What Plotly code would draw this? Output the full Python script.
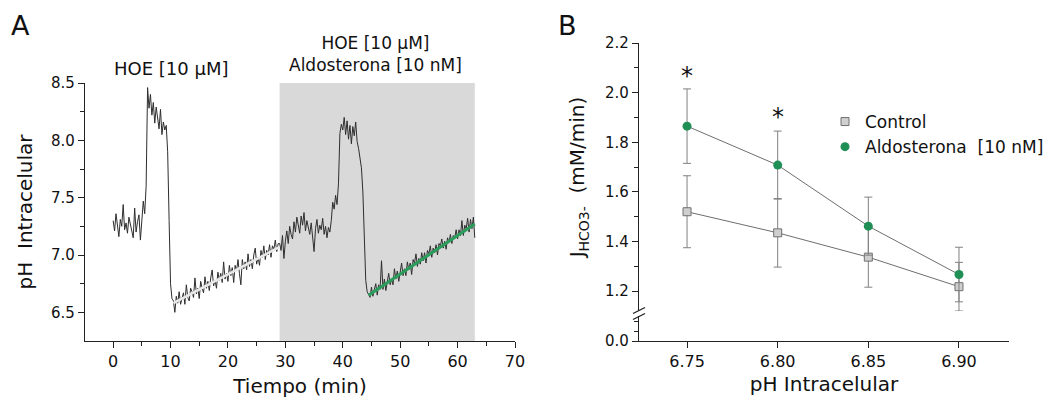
import plotly.graph_objects as go

W, H = 1049, 399
FONT = "DejaVu Sans"

# ---------------- Panel A data (pH trace sampled every 0.25 min) ----------------
seg1_t0 = 0.0
seg1_ph = [7.30, 7.21, 7.36, 7.26, 7.16, 7.31, 7.25, 7.44, 7.22, 7.28, 7.19, 7.33,
           7.27, 7.24, 7.15, 7.41, 7.20, 7.29, 7.35, 7.13, 7.30, 7.47, 7.36, 7.60]
seg2_t0 = 6.0
seg2_ph = [8.46, 8.28, 8.40, 8.22, 8.33, 8.15, 8.29, 8.18, 8.10, 8.27, 8.05, 8.16, 8.09, 8.13]
seg3_t0 = 9.5
seg3_ph = [7.90, 7.30, 6.75, 6.62]
seg4_t0 = 10.5
seg4_ph = [6.60, 6.50, 6.64, 6.58, 6.68, 6.57, 6.63, 6.67, 6.57, 6.74, 6.63, 6.60,
           6.71, 6.68, 6.63, 6.80, 6.66, 6.71, 6.62, 6.77, 6.71, 6.67, 6.81, 6.71,
           6.77, 6.69, 6.80, 6.87, 6.73, 6.78, 6.71, 6.85, 6.78, 6.84, 6.76, 6.94,
           6.79, 6.84, 6.77, 6.91, 6.82, 6.89, 6.76, 6.91, 6.86, 6.96, 6.84, 6.74,
           6.96, 6.88, 6.94, 6.87, 7.01, 6.90, 6.96, 6.88, 7.00, 7.06, 6.92, 6.98,
           6.91, 7.04, 6.98, 7.08, 6.96, 7.04, 7.00, 7.09, 6.98, 7.08, 7.05, 7.13,
           7.03, 7.10]
seg5_t0 = 29.0
seg5_ph = [7.10, 7.04, 7.17, 6.97, 7.12, 7.21, 7.10, 7.25, 7.18, 7.14, 7.29, 7.20,
           7.33, 7.24, 7.19, 7.34, 7.26, 7.37, 7.21, 7.30, 7.24, 7.18, 7.28, 7.14,
           7.03, 7.23, 7.31, 7.19, 7.26, 7.22, 7.32, 7.18, 7.25, 7.15, 7.24, 7.20,
           7.30, 7.46]
seg6_t0 = 38.5
seg6_ph = [7.40, 7.52, 7.44, 7.62, 8.06, 8.14, 8.09, 8.20, 8.05, 8.17, 8.01, 8.13,
           7.97, 8.12, 8.04, 8.16, 7.99, 7.93, 7.86, 7.76, 7.55]
seg7_t0 = 43.75
seg7_ph = [7.05, 6.78, 6.68]
seg8_t0 = 44.5
seg8_ph = [6.65, 6.63, 6.72, 6.64, 6.70, 6.75, 6.65, 6.74, 6.70, 6.95, 6.70, 6.79,
           6.69, 6.78, 6.84, 6.74, 6.79, 6.74, 6.88, 6.79, 6.86, 6.77, 6.86, 6.93,
           6.82, 6.88, 6.82, 6.94, 6.87, 6.93, 6.83, 6.96, 6.93, 7.01, 6.90, 6.97,
           6.92, 7.02, 6.95, 7.02, 6.93, 7.04, 7.01, 7.08, 6.98, 7.06, 7.02, 7.09,
           7.00, 7.10, 7.08, 7.14, 7.06, 7.12, 7.05, 7.15, 7.11, 7.18, 7.10, 7.17,
           7.15, 7.22, 7.14, 7.22, 7.17, 7.30, 7.17, 7.26, 7.23, 7.32, 7.20, 7.31,
           7.23, 7.33, 7.15]

segments = [(seg1_t0, seg1_ph), (seg2_t0, seg2_ph), (seg3_t0, seg3_ph), (seg4_t0, seg4_ph),
            (seg5_t0, seg5_ph), (seg6_t0, seg6_ph), (seg7_t0, seg7_ph), (seg8_t0, seg8_ph)]
STEP = 0.25
trace_t, trace_ph = [], []
for t0, vals in segments:
    for i, v in enumerate(vals):
        trace_t.append(t0 + STEP * i)
        trace_ph.append(v)

fit_ctrl_t = [10.5, 29.0]
fit_ctrl_ph = [6.58, 7.07]
fit_aldo_t = [44.5, 63.0]
fit_aldo_ph = [6.65, 7.27]
shade_t = [29.0, 63.0]

# ---------------- Panel B data ----------------
ph_i = [6.75, 6.80, 6.85, 6.90]
ctrl_j = [1.52, 1.435, 1.337, 1.218]
ctrl_err = [0.145, 0.138, 0.121, 0.098]
aldo_j = [1.865, 1.708, 1.462, 1.267]
aldo_err = [0.15, 0.137, 0.117, 0.11]
star_x = [6.75, 6.80]
star_y = [2.083, 1.918]

def px(x):
    return x / W

def py(y):
    return 1 - y / H

fig = go.Figure()

# Panel A
fig.add_trace(go.Scatter(x=trace_t, y=trace_ph, mode="lines",
                         line=dict(color="#2e2e2e", width=1), showlegend=False,
                         xaxis="x", yaxis="y"))
fig.add_trace(go.Scatter(x=fit_ctrl_t, y=fit_ctrl_ph, mode="lines",
                         line=dict(color="#e8e8e8", width=2.5), showlegend=False,
                         xaxis="x", yaxis="y"))
fig.add_trace(go.Scatter(x=fit_aldo_t, y=fit_aldo_ph, mode="lines",
                         line=dict(color="#2a9d5c", width=3), showlegend=False,
                         xaxis="x", yaxis="y"))

# Panel B: empty trace so the lower (broken) y-axis segment is drawn
fig.add_trace(go.Scatter(x=[], y=[], mode="markers", showlegend=False,
                         xaxis="x2", yaxis="y3"))
# connecting lines
fig.add_trace(go.Scatter(x=ph_i, y=ctrl_j, mode="lines", line=dict(color="#6e6e6e", width=1),
                         showlegend=False, xaxis="x2", yaxis="y2"))
fig.add_trace(go.Scatter(x=ph_i, y=aldo_j, mode="lines", line=dict(color="#6e6e6e", width=1),
                         showlegend=False, xaxis="x2", yaxis="y2"))
# markers + error bars
fig.add_trace(go.Scatter(x=ph_i, y=ctrl_j, mode="markers", name="Control",
                         marker=dict(symbol="square", size=8, color="#cfcfcf",
                                     line=dict(color="#707070", width=1)),
                         error_y=dict(type="data", array=ctrl_err, color="#808080",
                                      thickness=1, width=4),
                         xaxis="x2", yaxis="y2"))
fig.add_trace(go.Scatter(x=ph_i, y=aldo_j, mode="markers", name="Aldosterona  [10 nM]",
                         marker=dict(symbol="circle", size=9, color="#1f8f55"),
                         error_y=dict(type="data", array=aldo_err, color="#808080",
                                      thickness=1, width=4),
                         xaxis="x2", yaxis="y2"))

axis_common = dict(showgrid=False, zeroline=False, showline=True, linecolor="#222",
                   linewidth=1.3, ticks="outside", tickcolor="#222", tickwidth=1.2,
                   automargin=False,
                   tickfont=dict(family=FONT, size=15, color="#111"))

# A domains
xA = [px(85), px(515)]
yA = [py(341), py(83)]
# B domains
xB = [px(639), px(1009)]
yB_up = [py(311), py(43)]
yB_lo = [py(341), py(316)]

fig.update_layout(
    width=W, height=H,
    margin=dict(l=0, r=0, t=0, b=0, pad=0, autoexpand=False),
    paper_bgcolor="white", plot_bgcolor="white",
    font=dict(family=FONT, color="#111"),
    xaxis=dict(axis_common, domain=xA, anchor="y", range=[-4.9, 70],
               tickvals=[0, 10, 20, 30, 40, 50, 60, 70], ticklen=6,
               minor=dict(dtick=5, tick0=5, ticklen=4, ticks="outside", tickcolor="#222"),
               tickfont=dict(family=FONT, size=16, color="#111"),
               title=dict(text="Tiempo (min)", font=dict(family=FONT, size=20), standoff=8)),
    yaxis=dict(axis_common, domain=yA, anchor="x", range=[6.25, 8.5],
               tickvals=[6.5, 7.0, 7.5, 8.0, 8.5], tickformat=".1f", ticklen=6,
               minor=dict(tickvals=[6.75, 7.25, 7.75, 8.25], ticklen=4, ticks="outside",
                          tickcolor="#222"),
               title=dict(text="pH  Intracelular", font=dict(family=FONT, size=20), standoff=12)),
    xaxis2=dict(axis_common, domain=xB, anchor="y3", range=[6.7235, 6.9276],
                tickvals=ph_i, tickformat=".2f", ticklen=6,
                tickfont=dict(family=FONT, size=16, color="#111"),
                title=dict(text="pH Intracelular", font=dict(family=FONT, size=20), standoff=6)),
    yaxis2=dict(axis_common, domain=yB_up, anchor="x2", range=[1.12, 2.2],
                tickvals=[1.2, 1.4, 1.6, 1.8, 2.0, 2.2], tickformat=".1f", ticklen=6,
                minor=dict(tickvals=[1.3, 1.5, 1.7, 1.9, 2.1], ticklen=4, ticks="outside",
                           tickcolor="#222"),
                title=dict(text="J<sub>HCO3-</sub>  (mM/min)", font=dict(family=FONT, size=20),
                           standoff=14)),
    yaxis3=dict(axis_common, domain=yB_lo, anchor="x2", range=[0, 0.1],
                tickvals=[0.0], ticktext=["0.0"], ticklen=6,
                minor=dict(tickvals=[0.04, 0.08], ticklen=4, ticks="outside", tickcolor="#222")),
    legend=dict(x=px(825), y=py(104), xanchor="left", yanchor="top",
                bgcolor="rgba(0,0,0,0)", font=dict(family=FONT, size=17, color="#111"),
                itemwidth=30),
)

# Shaded period in panel A
fig.add_shape(type="rect", xref="x", yref="y", x0=shade_t[0], x1=shade_t[1], y0=6.25, y1=8.5,
              fillcolor="#d9d9d9", line=dict(width=0), layer="below")

# Axis break marks on panel B y-axis
for yb in [310.5, 316.5]:
    fig.add_shape(type="line", xref="paper", yref="paper",
                  x0=px(633), x1=px(645), y0=py(yb + 3), y1=py(yb - 3),
                  line=dict(color="#222", width=1.3))

# Significance stars
for sx, sy in zip(star_x, star_y):
    fig.add_annotation(x=sx, y=sy, xref="x2", yref="y2", text="*", showarrow=False,
                       xanchor="center", yanchor="middle", yshift=-4,
                       font=dict(family=FONT, size=24, color="#111"))

# Labels
fig.add_annotation(x=px(9), y=py(8), xref="paper", yref="paper", text="A", showarrow=False,
                   xanchor="left", yanchor="top", font=dict(family=FONT, size=27, color="#111"))
fig.add_annotation(x=px(556), y=py(8), xref="paper", yref="paper", text="B", showarrow=False,
                   xanchor="left", yanchor="top", font=dict(family=FONT, size=27, color="#111"))
fig.add_annotation(x=px(171), y=py(69), xref="paper", yref="paper", text="HOE [10 \u03bcM]",
                   xanchor="center", yanchor="middle",
                   showarrow=False, font=dict(family=FONT, size=18, color="#111"))
fig.add_annotation(x=px(375), y=py(54), xref="paper", yref="paper",
                   text="HOE [10 \u03bcM]<br>Aldosterona [10 nM]", align="center",
                   xanchor="center", yanchor="middle",
                   showarrow=False, font=dict(family=FONT, size=17, color="#111"))

fig.write_html("out.html")
